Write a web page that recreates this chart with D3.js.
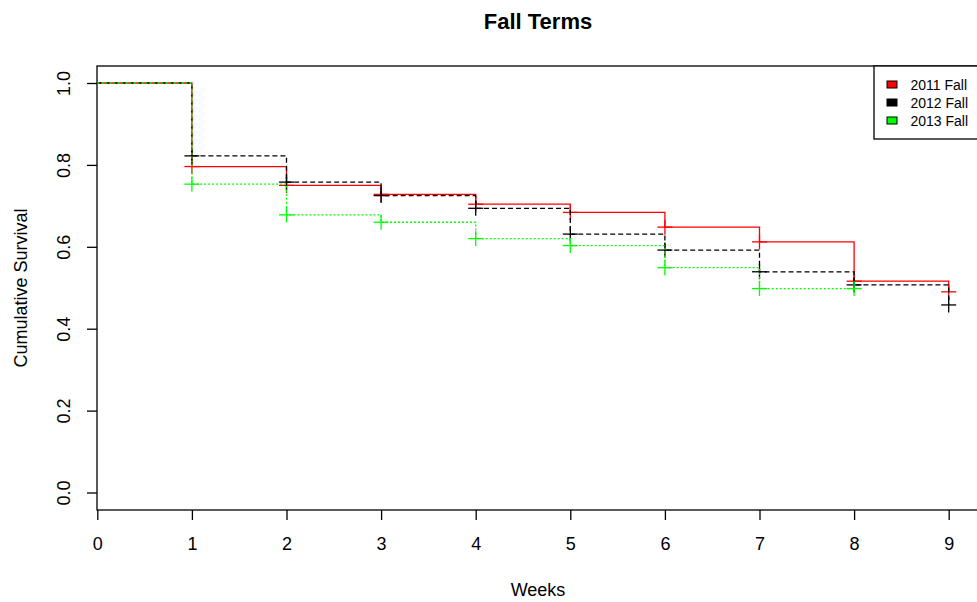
<!DOCTYPE html>
<html>
<head>
<meta charset="utf-8">
<script src="https://cdn.jsdelivr.net/npm/d3@7"></script>
<style>
  body { margin: 0; background: #fff; }
  text { font-family: "Liberation Sans", Arial, sans-serif; }
</style>
</head>
<body>
<div id="my_dataviz"></div>
<script>
// survival estimates, one value per week
var weeks = [0, 1, 2, 3, 4, 5, 6, 7, 8, 9];
var fall2011 = [1, 0.796, 0.750, 0.728, 0.704, 0.684, 0.648, 0.612, 0.516, 0.490];
var fall2012 = [1, 0.822, 0.758, 0.725, 0.694, 0.631, 0.592, 0.539, 0.507, 0.458];
var fall2013 = [1, 0.753, 0.678, 0.660, 0.620, 0.603, 0.549, 0.498, 0.498];
var seriesNames = ["2011 Fall", "2012 Fall", "2013 Fall"];
var seriesColors = ["#ff0000", "#000000", "#00ff00"];
var seriesDash = [null, "5,3", "2,2"];
var xTicks = [0, 1, 2, 3, 4, 5, 6, 7, 8, 9];
var yTicks = [0, 0.2, 0.4, 0.6, 0.8, 1.0];

var svg = d3.select("#my_dataviz")
  .append("svg")
  .attr("width", 977)
  .attr("height", 602)
;

var x = d3.scaleLinear().domain([0, 9]).range([97.3, 948.7]);
var y = d3.scaleLinear().domain([0, 1]).range([492.5, 83]);

// plot box (right edge falls just outside the picture)
svg.append("rect")
  .attr("x", 97).attr("y", 66)
  .attr("width", 882).attr("height", 444)
  .attr("fill", "none")
  .attr("stroke", "#000")
  .attr("stroke-width", 1.3);

// x axis
var xAxis = svg.append("g")
  .attr("transform", "translate(0,510)")
  .call(d3.axisBottom(x).tickValues(xTicks).tickSize(10).tickPadding(17).tickFormat(d3.format("d")));
xAxis.select(".domain").remove();
xAxis.selectAll("line").attr("stroke", "#000").attr("stroke-width", 1.3);
xAxis.selectAll("text").attr("font-size", 18).attr("fill", "#000")
  .style("font-family", '"Liberation Sans", Arial, sans-serif');

// y axis, labels turned like R does
var yAxis = svg.append("g")
  .attr("transform", "translate(97,0)")
  .call(d3.axisLeft(y).tickValues(yTicks).tickSize(10).tickFormat(d3.format(".1f")));
yAxis.select(".domain").remove();
yAxis.selectAll("line").attr("stroke", "#000").attr("stroke-width", 1.3);
yAxis.selectAll("text")
  .attr("font-size", 18).attr("fill", "#000")
  .attr("x", null).attr("dy", null)
  .attr("text-anchor", "middle")
  .attr("transform", "translate(-27,0) rotate(-90)")
  .style("font-family", '"Liberation Sans", Arial, sans-serif');

// step curves
var allSeries = [fall2011, fall2012, fall2013];
var line = d3.line()
  .x(function(d) { return x(d[0]); })
  .y(function(d) { return y(d[1]); })
  .curve(d3.curveStepAfter);

allSeries.forEach(function(vals, i) {
  var pts = vals.map(function(v, j) { return [weeks[j], v]; });
  svg.append("path")
    .datum(pts)
    .attr("d", line)
    .attr("fill", "none")
    .attr("stroke", seriesColors[i])
    .attr("stroke-width", 1.3)
    .attr("stroke-dasharray", seriesDash[i]);

  // censor marks
  var marks = svg.append("g").selectAll(".mark").data(pts.slice(1)).enter();
  marks.append("line")
    .attr("x1", function(d) { return x(d[0]) - 7.5; })
    .attr("x2", function(d) { return x(d[0]) + 7.5; })
    .attr("y1", function(d) { return y(d[1]); })
    .attr("y2", function(d) { return y(d[1]); })
    .attr("stroke", seriesColors[i]).attr("stroke-width", 1.3);
  marks.append("line")
    .attr("x1", function(d) { return x(d[0]); })
    .attr("x2", function(d) { return x(d[0]); })
    .attr("y1", function(d) { return y(d[1]) - 7.5; })
    .attr("y2", function(d) { return y(d[1]) + 7.5; })
    .attr("stroke", seriesColors[i]).attr("stroke-width", 1.3);
});

// title and axis titles
svg.append("text")
  .attr("x", 538).attr("y", 29)
  .attr("text-anchor", "middle")
  .attr("font-size", 22).attr("font-weight", "bold")
  .text("Fall Terms");

svg.append("text")
  .attr("x", 538).attr("y", 596)
  .attr("text-anchor", "middle")
  .attr("font-size", 18)
  .text("Weeks");

svg.append("text")
  .attr("transform", "translate(27,288) rotate(-90)")
  .attr("text-anchor", "middle")
  .attr("font-size", 18)
  .text("Cumulative Survival");

// legend
var legend = svg.append("g");
legend.append("rect")
  .attr("x", 874).attr("y", 66)
  .attr("width", 110).attr("height", 73)
  .attr("fill", "#fff")
  .attr("stroke", "#000").attr("stroke-width", 1.3);

seriesNames.forEach(function(name, i) {
  var cy = 84.5 + i * 18;
  legend.append("rect")
    .attr("x", 887).attr("y", cy - 3.5)
    .attr("width", 10).attr("height", 7)
    .attr("fill", seriesColors[i])
    .attr("stroke", "#000").attr("stroke-width", 1);
  legend.append("text")
    .attr("x", 910.5).attr("y", cy + 5)
    .attr("font-size", 14)
    .text(name);
});
</script>
</body>
</html>
